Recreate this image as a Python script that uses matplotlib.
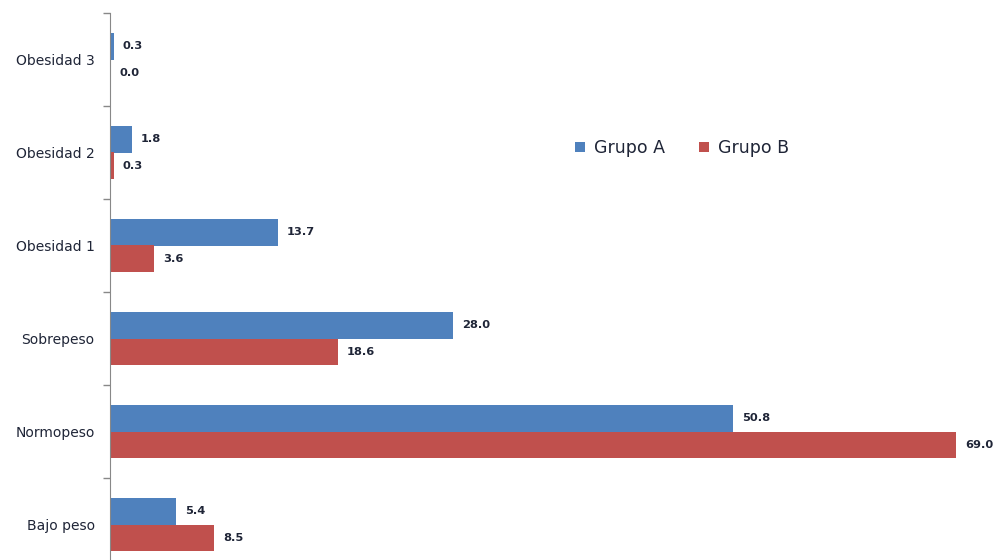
import numpy as np
import matplotlib.pyplot as plt

categories = ['Bajo peso', 'Normopeso', 'Sobrepeso', 'Obesidad 1', 'Obesidad 2', 'Obesidad 3']
grupo_a = [5.4, 50.8, 28.0, 13.7, 1.8, 0.3]
grupo_b = [8.5, 69.0, 18.6, 3.6, 0.3, 0.0]

blue = '#4F81BD'
red = '#C0504D'
text_col = '#1F2537'

fig = plt.figure(figsize=(10.03, 5.6), dpi=100)
ax = fig.add_axes([110 / 1003, -11 / 560, 893 / 1003, 558 / 560])

y = np.arange(len(categories))
h = 0.285
ax.barh(y + h / 2, grupo_a, height=h, color=blue, label='Grupo A')
ax.barh(y - h / 2, grupo_b, height=h, color=red, label='Grupo B')

for yi, va, vb in zip(y, grupo_a, grupo_b):
    ax.annotate(f'{va:.1f}', (va, yi + h / 2), xytext=(6.5, 0), textcoords='offset points',
                va='center', ha='left', fontsize=8.2, fontweight='bold', color=text_col)
    ax.annotate(f'{vb:.1f}', (vb, yi - h / 2), xytext=(6.5, 0), textcoords='offset points',
                va='center', ha='left', fontsize=8.2, fontweight='bold', color=text_col)

ax.set_xlim(0, 72.8)
ax.set_ylim(-0.5, 5.5)
ax.set_yticks(y)
ax.set_yticklabels(categories, fontsize=10, color=text_col)
ax.set_yticks(np.arange(-0.5, 6.0, 1.0), minor=True)
ax.tick_params(axis='y', which='major', length=0, pad=11)
ax.tick_params(axis='y', which='minor', length=5, color='#888888', width=1)
ax.set_xticks([])
for s in ['top', 'right', 'bottom']:
    ax.spines[s].set_visible(False)
ax.spines['left'].set_color('#888888')

leg = ax.legend(loc='center', bbox_to_anchor=(682 / 1003, 1 - 148 / 560), bbox_transform=fig.transFigure,
                ncol=2, frameon=False, fontsize=12.5, handlelength=0.55, handleheight=0.55,
                handletextpad=0.5, columnspacing=2.0)
for t in leg.get_texts():
    t.set_color(text_col)

fig.savefig('out.png', dpi=100)
